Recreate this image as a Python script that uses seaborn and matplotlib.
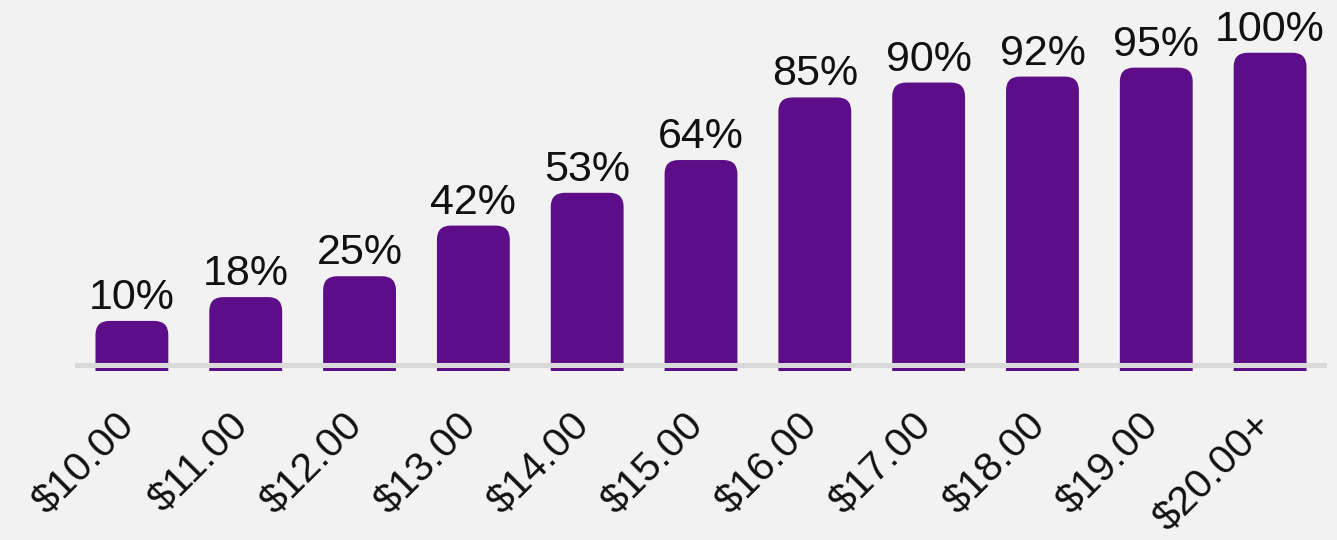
import matplotlib
matplotlib.use("Agg")
import matplotlib.pyplot as plt
import matplotlib.transforms as mtransforms
import seaborn as sns
import pandas as pd
from matplotlib.path import Path
from matplotlib.patches import PathPatch

categories = ["$10.00", "$11.00", "$12.00", "$13.00", "$14.00", "$15.00",
              "$16.00", "$17.00", "$18.00", "$19.00", "$20.00+"]
values = [10, 18, 25, 42, 53, 64, 85, 90, 92, 95, 100]
value_labels = ["10%", "18%", "25%", "42%", "53%", "64%", "85%", "90%", "92%", "95%", "100%"]

BG = "#f2f2f2"
BAR = "#5c0d87"
GRID = "#d9d9d9"
BASE = -6.8
TOP = 117.7
RADIUS_PX = 14

sns.set_theme(style="white")
plt.rcParams["font.family"] = ["Liberation Sans", "DejaVu Sans"]

fig = plt.figure(figsize=(13.37, 5.40), dpi=100, facecolor=BG)
ax = fig.add_axes([75 / 1337, 1 - 371 / 540, (1327 - 75) / 1337, 371 / 540])
ax.set_facecolor(BG)

df = pd.DataFrame({"cat": categories, "val": values})
sns.barplot(data=df, x="cat", y="val", color=BAR, width=0.64, saturation=1, ax=ax)

ax.set_xlim(-0.5, len(categories) - 0.5)
ax.set_ylim(BASE, TOP)

fig.canvas.draw()
bbox = ax.get_window_extent()
px_x = bbox.width / (len(categories))
px_y = bbox.height / (TOP - BASE)
rx = RADIUS_PX / px_x
ry = RADIUS_PX / px_y

rects = list(ax.patches)
for p in rects:
    x0 = p.get_x()
    x1 = x0 + p.get_width()
    y1 = p.get_y() + p.get_height()
    y0 = BASE
    verts = [(x0, y0), (x1, y0), (x1, y1 - ry), (x1, y1), (x1 - rx, y1),
             (x0 + rx, y1), (x0, y1), (x0, y1 - ry), (x0, y0)]
    codes = [Path.MOVETO, Path.LINETO, Path.LINETO, Path.CURVE3, Path.CURVE3,
             Path.LINETO, Path.CURVE3, Path.CURVE3, Path.CLOSEPOLY]
    ax.add_patch(PathPatch(Path(verts, codes), facecolor=BAR, edgecolor="none", zorder=2))
    p.remove()

ax.axhline(BASE + 5.5 / px_y, color=GRID, lw=3.6, zorder=3)

for i, (v, lab) in enumerate(zip(values, value_labels)):
    ax.annotate(lab, (i, v), xytext=(0, 3), textcoords="offset pixels",
                ha="center", va="bottom", fontsize=31, color="#111111")

ax.set_xlabel("")
ax.set_ylabel("")
ax.set_yticks([])
ax.tick_params(axis="x", length=0, pad=0)
ax.set_xticks(range(len(categories)))
ax.set_xticklabels(categories, rotation=45, ha="right", va="center",
                   rotation_mode="anchor", fontsize=29.5, color="#111111")
for lbl in ax.get_xticklabels():
    lbl.set_transform(lbl.get_transform() +
                      mtransforms.ScaledTranslation(-0.03, -0.49, fig.dpi_scale_trans))
sns.despine(ax=ax, left=True, bottom=True)

fig.savefig("out.png", dpi=100, facecolor=BG)
